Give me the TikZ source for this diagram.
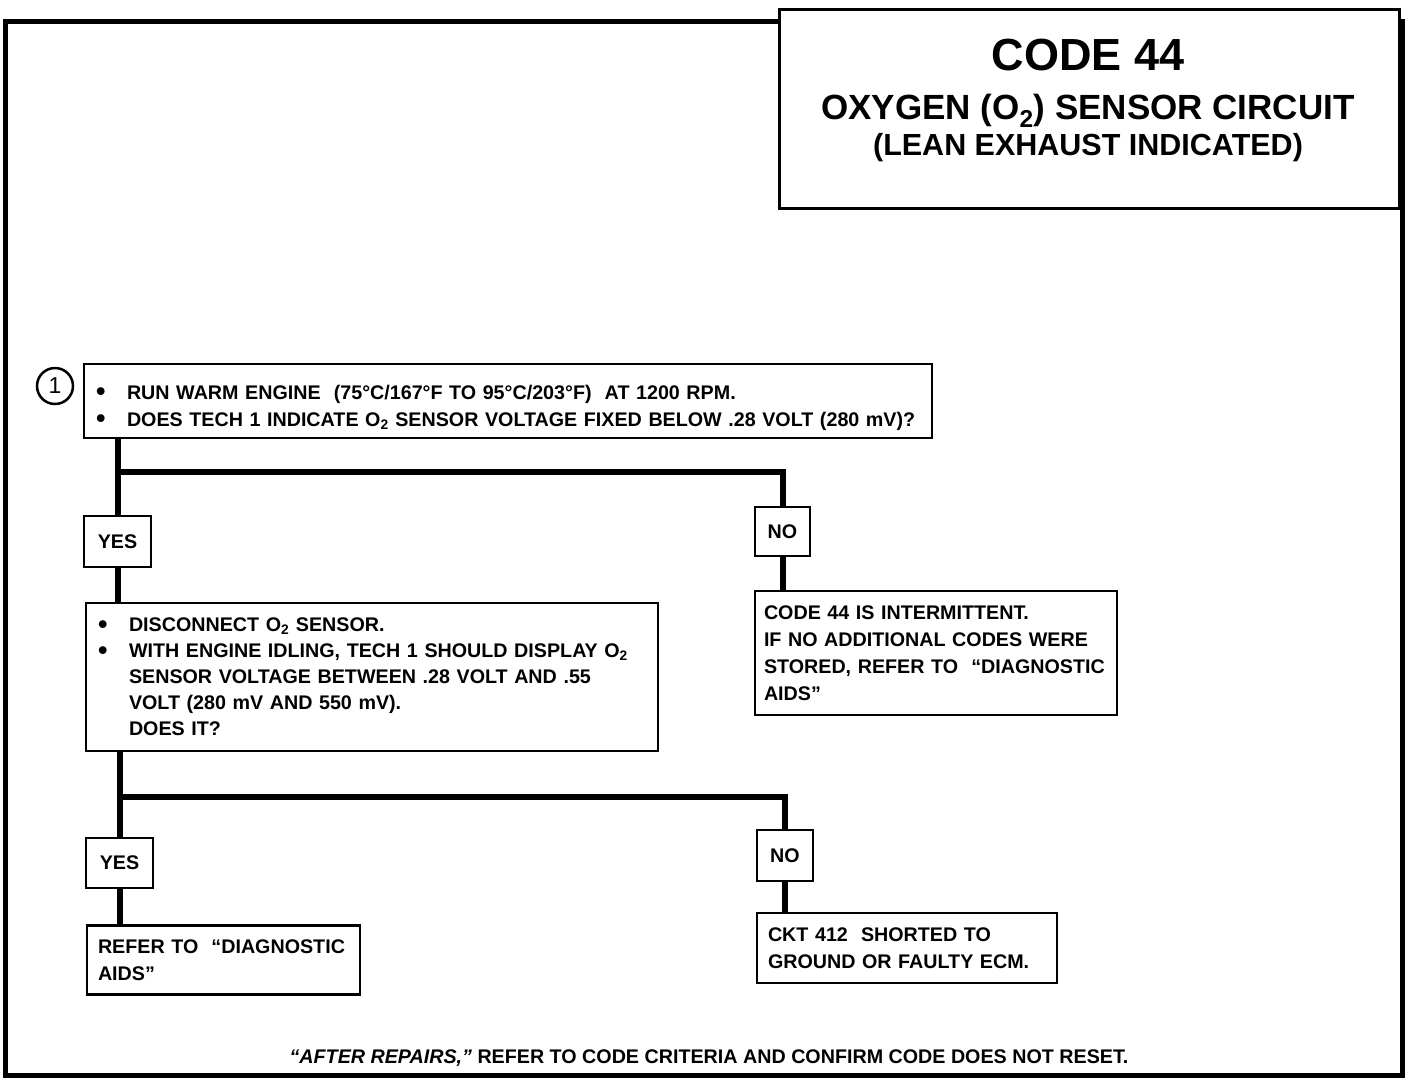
\documentclass[tikz,border=0pt]{standalone}
\usepackage{fontspec}
\setmainfont{Liberation Sans}

\newcommand{\bul}{\makebox[31pt][l]{\raisebox{-1.5pt}{\fontsize{27}{0}\selectfont\textbullet}}}
\newcommand{\otwo}{O\textsubscript{2}}

\begin{document}
\begin{tikzpicture}[x=1pt, y=-1pt,
  every node/.style={font=\bfseries\fontsize{19.7}{27}\selectfont},
  stepbox/.style={draw, line width=2.5pt, fill=white, align=left, inner xsep=12pt, inner ysep=0pt},
  answer/.style={draw, line width=2.5pt, fill=white, inner sep=0pt},
  link/.style={line width=6pt}]
  \useasboundingbox (0,0) rectangle (1408,1080);
  % frame and title block
  \draw[line width=5pt] (5,21) rectangle (1402,1075);
  \node[draw, line width=3pt, fill=white, anchor=north west, minimum width=620pt, minimum height=199pt, inner sep=0pt] (title) at (778,8) {};
  \node[font=\bfseries\fontsize{45}{45}\selectfont] (code) at (1088,55) {CODE 44};
  \node[font=\bfseries\fontsize{35}{35}\selectfont] (circuit) at (1088,111) {OXYGEN (\otwo) SENSOR CIRCUIT};
  \node[font=\bfseries\fontsize{30.5}{30.5}\selectfont] (lean) at (1088,148) {(LEAN EXHAUST INDICATED)};

  % first check
  \node[draw, circle, line width=2.5pt, minimum size=36pt, inner sep=0pt, font=\fontsize{23}{23}\selectfont] (one) at (55,386) {1};
  \node[stepbox, text width=824pt, minimum height=74pt] (check) at (508,401)
    {\rule{0pt}{28pt}\bul RUN WARM ENGINE\ \ (75°C/167°F TO 95°C/203°F)\ \ AT 1200 RPM.\\
     \bul DOES TECH 1 INDICATE \otwo\ SENSOR VOLTAGE FIXED BELOW .28 VOLT (280 mV)?};
  \node[answer, minimum width=67pt, minimum height=51pt] (yes1) at (117.5,541.5) {YES};
  \node[answer, minimum width=55pt, minimum height=49pt] (no1) at (782.5,531.5) {NO};
  \node[stepbox, text width=548pt, minimum height=148pt, font=\bfseries\fontsize{19.7}{26}\selectfont] (scan) at (372,677)
    {\bul DISCONNECT \otwo\ SENSOR.\\
     \bul WITH ENGINE IDLING, TECH 1 SHOULD DISPLAY \otwo\\
     \hspace*{31pt}SENSOR VOLTAGE BETWEEN .28 VOLT AND .55\\
     \hspace*{31pt}VOLT (280 mV AND 550 mV).\\
     \hspace*{31pt}DOES IT?};
  \node[stepbox, text width=344pt, minimum height=124pt, inner xsep=9pt] (intermit) at (936,653)
    {CODE 44 IS INTERMITTENT.\\
     IF NO ADDITIONAL CODES WERE\\
     STORED, REFER TO\ \ ``DIAGNOSTIC\\
     AIDS''};

  % second check
  \node[answer, minimum width=67pt, minimum height=50pt] (yes2) at (119.5,863) {YES};
  \node[answer, minimum width=56pt, minimum height=51pt] (no2) at (785,855.5) {NO};
  \node[stepbox, text width=251pt, minimum height=69pt, inner xsep=11pt] (aids) at (223.5,960)
    {REFER TO\ \ ``DIAGNOSTIC\\ AIDS''};
  \node[stepbox, text width=278pt, minimum height=70pt, inner xsep=11pt] (ground) at (907,948)
    {CKT 412\ \ SHORTED TO\\ GROUND OR FAULTY ECM.};

  % connectors
  \coordinate (fork1) at (117.5,472);
  \coordinate (fork2) at (119.5,797);
  \draw[link] (check.south -| yes1.north) -- (yes1.north);
  \draw[link] (fork1) -| (no1.north);
  \draw[link] (yes1.south) -- (yes1.south |- scan.north);
  \draw[link] (no1.south) -- (no1.south |- intermit.north);
  \draw[link] (scan.south -| yes2.north) -- (yes2.north);
  \draw[link] (fork2) -| (no2.north);
  \draw[link] (yes2.south) -- (yes2.south |- aids.north);
  \draw[link] (no2.south) -- (no2.south |- ground.north);

  \node[font=\bfseries\fontsize{19.7}{19.7}\selectfont] (repairs) at (709,1058)
    {\textit{``AFTER REPAIRS,''} REFER TO CODE CRITERIA AND CONFIRM CODE DOES NOT RESET.};
\end{tikzpicture}
\end{document}
